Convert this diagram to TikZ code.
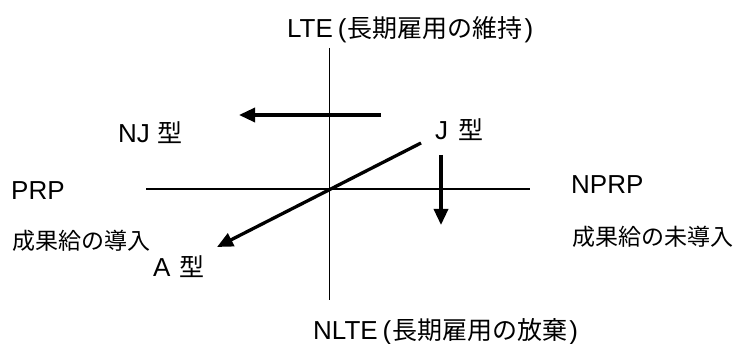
\documentclass[tikz,border=0pt]{standalone}
\usepackage{fontspec}
\setmainfont{Liberation Sans}
\newfontfamily\jp{Noto Sans CJK JP}
\usetikzlibrary{arrows.meta}
\newcommand\bigjp{\fontsize{25}{30}\selectfont\jp}
\begin{document}
\begin{tikzpicture}[x=1pt,y=-1pt,
  axis/.style={line width=1.3pt},
  arr/.style={line width=3.3pt,-{Triangle[length=16pt,width=14pt]}},
  lab/.style={inner sep=0pt,anchor=base west,font=\fontsize{26}{30}\selectfont},
  jlab/.style={inner sep=0pt,anchor=base west,font=\fontsize{23}{28}\selectfont\jp}]
\useasboundingbox (0,0) rectangle (747,344);
% axes
\coordinate (vt) at (329.5,48);
\coordinate (vb) at (329.5,300);
\coordinate (hl) at (146,189);
\coordinate (hr) at (530,189);
\draw[axis] (vt) -- (vb);
\draw[axis] (hl) -- (hr);
% arrows
\coordinate (nj0) at (381,115);
\coordinate (nj1) at (239,115);
\coordinate (ja0) at (421,143);
\coordinate (ja1) at (217,247);
\coordinate (d0) at (441,155);
\coordinate (d1) at (441,225);
\draw[arr] (nj0) -- (nj1);
\draw[arr] (ja0) -- (ja1);
\draw[arr] (d0) -- (d1);
% labels
\node[lab] (lte) at (287,38) {LTE\hspace{5pt}(\hspace{1pt}{\bigjp 長期雇用の維持}\hspace{2pt})};
\node[lab] (nlte) at (313,340) {NLTE\hspace{5pt}(\hspace{1pt}{\bigjp 長期雇用の放棄}\hspace{2pt})};
\node[lab] (prp) at (11,200) {PRP};
\node[lab] (nprp) at (571,194) {NPRP};
\node[lab] (nj) at (118,143) {NJ\hspace{8pt}{\bigjp 型}};
\node[lab] (j) at (435,140) {J\hspace{10pt}{\bigjp 型}};
\node[lab] (a) at (153,277) {A\hspace{9pt}{\bigjp 型}};
\node[jlab] (seika) at (12,250) {成果給の導入};
\node[jlab] (miseika) at (572,246) {成果給の未導入};
\end{tikzpicture}
\end{document}
